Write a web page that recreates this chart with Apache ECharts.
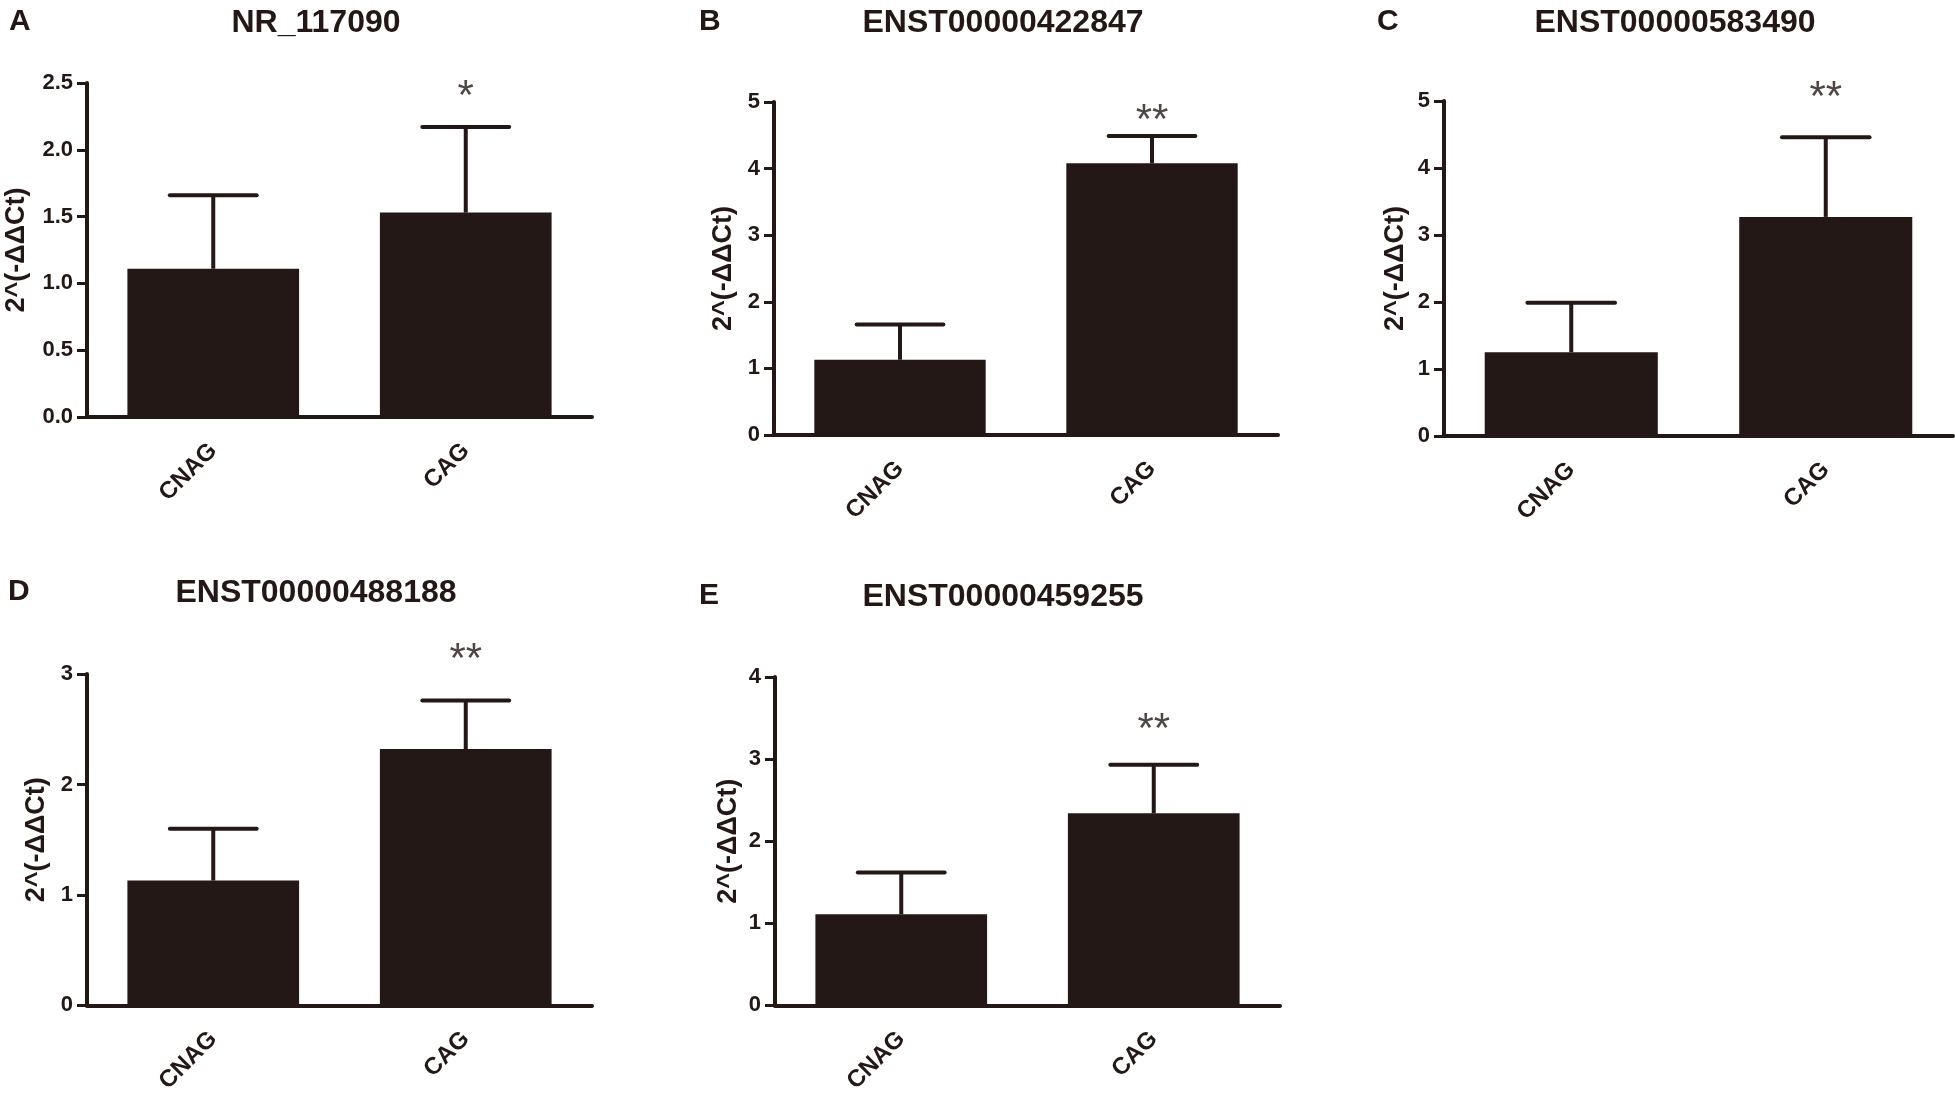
<!DOCTYPE html>
<html>
<head>
<meta charset="utf-8">
<script src="https://cdn.jsdelivr.net/npm/echarts@6/dist/echarts.min.js"></script>
<style>
  html, body { margin: 0; padding: 0; background: #fff; }
  #main { width: 1955px; height: 1096px; }
</style>
</head>
<body>
<div id="main"></div>
<script>
// values
const genes = ['NR_117090', 'ENST00000422847', 'ENST00000583490', 'ENST00000488188', 'ENST00000459255']
const letters = ['A', 'B', 'C', 'D', 'E']
const groups = ['CNAG', 'CAG']
const meanCNAG = [1.11, 1.13, 1.25, 1.13, 1.11]
const meanCAG = [1.53, 4.08, 3.27, 2.32, 2.34]
const errCNAG = [0.55, 0.53, 0.74, 0.47, 0.51]
const errCAG = [0.64, 0.41, 1.19, 0.44, 0.59]
const yMax = [2.5, 5, 5, 3, 4]
const yStep = [0.5, 1, 1, 1, 1]
const stars = ['*', '**', '**', '**', '**']
const starLevel = [2.46, 4.84, 5.18, 3.2, 3.46]
const yName = '2^(-\u0394\u0394Ct)'

// panel layout in px
const layout = [
  { left: 87, top: 83, width: 505, height: 334, gap: 57, tx: 311, ty: 2, lx: 4, ly: 2 },
  { left: 774, top: 102, width: 504, height: 333, gap: 37, tx: 998, ty: 2, lx: 694, ly: 2 },
  { left: 1444, top: 101, width: 509, height: 335, gap: 35, tx: 1670, ty: 2, lx: 1372, ly: 2 },
  { left: 87, top: 674, width: 505, height: 334, gap: 37, tx: 311, ty: 572, lx: 3, ly: 572 },
  { left: 775, top: 677, width: 505, height: 331, gap: 33, tx: 998, ty: 576, lx: 694, ly: 576 }
]

const ink = '#231815'
const font = '"Liberation Sans", Arial, sans-serif'
const barRatio = 0.68

const chart = echarts.init(document.getElementById('main'))

let grid = [], xAxis = [], yAxis = [], series = [], title = []

genes.forEach(function(g, i) {
  const L = layout[i]
  grid.push({ left: L.left, top: L.top, width: L.width, height: L.height, containLabel: false })
  title.push({
    text: g, left: L.tx, top: L.ty, textAlign: 'center',
    textStyle: { fontFamily: font, fontWeight: 'bold', fontSize: 32, color: ink }
  })
  title.push({
    text: letters[i], left: L.lx, top: L.ly,
    textStyle: { fontFamily: font, fontWeight: 'bold', fontSize: 30, color: ink }
  })
  xAxis.push({
    type: 'category', gridIndex: i, data: groups,
    axisLine: { lineStyle: { color: ink, width: 4 } },
    axisTick: { alignWithLabel: true, length: 10, lineStyle: { color: ink, width: 3 } },
    axisLabel: { rotate: 45, margin: 30, fontFamily: font, fontWeight: 'bold', fontSize: 24, color: ink }
  })
  yAxis.push({
    type: 'value', gridIndex: i, min: 0, max: yMax[i], interval: yStep[i],
    name: yName, nameLocation: 'middle', nameGap: L.gap,
    nameTextStyle: { fontFamily: font, fontWeight: 'bold', fontSize: 27, color: ink },
    splitLine: { show: false },
    axisLine: { show: true, lineStyle: { color: ink, width: 4 } },
    axisTick: { show: true, length: 10, lineStyle: { color: ink, width: 3 } },
    axisLabel: {
      margin: 14, fontFamily: font, fontWeight: 'bold', fontSize: 22, color: ink,
      formatter: function(v) { return yStep[i] < 1 ? v.toFixed(1) : String(v) }
    }
  })
  series.push({
    type: 'bar', xAxisIndex: i, yAxisIndex: i,
    barWidth: (barRatio * 100) + '%',
    itemStyle: { color: ink },
    data: [meanCNAG[i], meanCAG[i]],
    z: 2
  })
  series.push({
    type: 'custom', xAxisIndex: i, yAxisIndex: i,
    data: [[0, meanCNAG[i], errCNAG[i]], [1, meanCAG[i], errCAG[i]]],
    renderItem: function(params, api) {
      const x = api.value(0), m = api.value(1), e = api.value(2)
      const base = api.coord([x, m])
      const top = api.coord([x, m + e])
      const half = api.size([1, 0])[0] * barRatio * 0.253
      return {
        type: 'group',
        children: [
          { type: 'line', shape: { x1: base[0], y1: base[1], x2: top[0], y2: top[1] },
            style: { stroke: ink, lineWidth: 4 } },
          { type: 'line', shape: { x1: top[0] - half, y1: top[1], x2: top[0] + half, y2: top[1] },
            style: { stroke: ink, lineWidth: 4, lineCap: 'round' } }
        ]
      }
    },
    z: 3
  })
  // significance stars (some sit above the axis max, so no clipping)
  series.push({
    type: 'scatter', xAxisIndex: i, yAxisIndex: i,
    symbolSize: 0, clip: false,
    data: [[1, starLevel[i]]],
    label: {
      show: true, position: 'inside', offset: [0, 9],
      formatter: stars[i],
      fontFamily: font, fontSize: 42, color: ink
    },
    z: 4
  })
})

chart.setOption({
  animation: false,
  backgroundColor: '#fff',
  title: title,
  grid: grid,
  xAxis: xAxis,
  yAxis: yAxis,
  series: series
})
</script>
</body>
</html>
